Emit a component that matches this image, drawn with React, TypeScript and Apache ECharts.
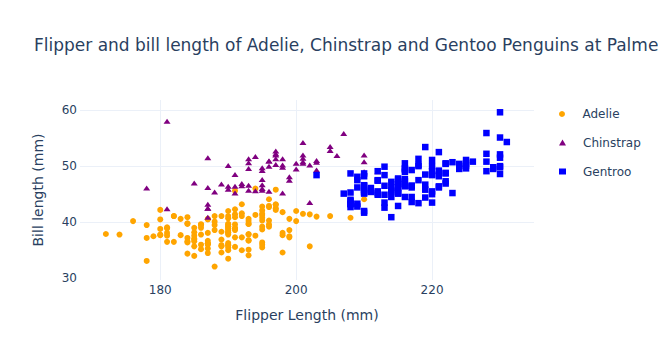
import React, { useEffect, useRef } from "react";
import * as echarts from "echarts";

// [flipper length (mm), bill length (mm)]
const adelie: number[][] = [
  [181,39.1],[186,39.5],[195,40.3],[193,36.7],[190,39.3],[181,38.9],[195,39.2],[193,34.1],[190,42.0],[186,37.8],
  [180,37.8],[182,41.1],[191,38.6],[198,34.6],[185,36.6],[195,38.7],[197,42.5],[184,34.4],[194,46.0],[174,37.8],
  [180,37.7],[189,35.9],[185,38.2],[180,38.8],[187,35.3],[183,40.6],[187,40.5],[172,37.9],[180,40.5],[178,39.5],
  [178,37.2],[188,39.5],[184,40.9],[195,36.4],[196,39.2],[190,38.8],[180,42.2],[181,37.6],[184,39.8],[182,36.5],
  [195,40.8],[186,36.0],[196,44.1],[185,37.0],[190,39.6],[182,41.1],[179,37.5],[190,36.0],[191,42.3],[186,39.6],
  [188,40.1],[190,35.0],[200,42.0],[187,34.5],[191,41.4],[186,39.0],[193,40.6],[181,36.5],[194,37.6],[185,35.7],
  [195,41.3],[185,37.6],[192,41.1],[184,36.4],[192,41.6],[195,35.5],[188,41.1],[190,35.9],[198,41.8],[190,33.5],
  [190,39.7],[196,39.6],[197,45.8],[190,35.5],[195,42.8],[191,40.9],[184,37.2],[187,36.2],[195,42.1],[189,34.6],
  [196,42.9],[187,36.7],[193,35.1],[191,37.3],[194,41.3],[190,36.3],[189,36.9],[189,38.3],[190,38.9],[202,35.7],
  [205,41.1],[185,34.0],[186,39.6],[187,36.2],[208,40.8],[190,38.1],[196,40.3],[178,33.1],[192,43.2],[192,35.0],
  [203,41.0],[183,37.7],[190,37.8],[193,37.9],[184,39.7],[199,38.6],[190,38.2],[181,38.1],[197,43.2],[198,38.1],
  [191,45.6],[193,39.7],[197,42.2],[191,39.6],[196,42.7],[188,38.6],[199,37.3],[189,35.7],[189,41.1],[187,36.2],
  [198,37.7],[176,40.2],[202,41.4],[186,35.2],[199,40.6],[191,38.8],[195,41.5],[191,39.0],[210,44.1],[190,38.5],
  [197,43.1],[193,36.8],[199,37.5],[187,38.1],[190,41.1],[191,35.6],[200,40.2],[185,37.0],[193,39.7],[193,40.2],
  [187,40.6],[188,32.1],[190,40.7],[192,37.3],[185,39.0],[190,39.2],[184,36.6],[195,36.0],[193,37.8],[187,36.0],
  [201,41.5]
];

const chinstrap: number[][] = [
  [192,46.5],[196,50.0],[193,51.3],[188,45.4],[197,52.7],[198,45.2],[178,46.1],[197,51.3],[195,46.0],[198,51.3],
  [193,46.6],[194,51.7],[185,47.0],[201,52.0],[190,45.9],[201,50.5],[197,50.3],[181,58.0],[190,46.4],[195,49.2],
  [181,42.4],[191,48.5],[187,43.2],[193,50.6],[195,46.7],[197,52.0],[200,50.5],[200,49.5],[191,46.4],[205,52.8],
  [187,40.9],[201,54.2],[187,42.5],[203,51.0],[195,49.7],[199,47.5],[195,47.6],[210,52.0],[192,46.9],[205,53.5],
  [210,49.0],[187,46.2],[196,50.9],[196,45.5],[196,50.9],[201,50.8],[190,50.1],[212,49.0],[187,51.5],[198,49.8],
  [199,48.1],[201,51.4],[193,45.7],[203,50.7],[187,42.5],[197,52.2],[191,45.2],[203,49.3],[202,50.2],[194,45.6],
  [206,51.9],[189,46.8],[195,45.7],[207,55.8],[202,43.5],[193,49.6],[210,50.8],[198,50.2]
];

const gentoo: number[][] = [
  [211,46.1],[230,50.0],[210,48.7],[218,50.0],[215,47.6],[210,46.5],[211,45.4],[219,46.7],[209,43.3],[215,46.8],
  [214,40.9],[216,49.0],[214,45.5],[213,48.4],[210,45.8],[217,49.3],[210,42.0],[221,49.2],[209,46.2],[222,48.7],
  [218,50.2],[215,45.1],[213,46.5],[215,46.3],[215,42.9],[215,46.1],[216,44.5],[215,47.8],[210,48.2],[220,50.0],
  [222,47.3],[209,42.8],[207,45.1],[230,59.6],[220,49.1],[220,48.4],[213,42.6],[219,44.4],[208,44.0],[208,48.7],
  [208,42.7],[225,49.6],[210,45.3],[216,49.6],[222,50.5],[217,43.6],[210,45.5],[225,50.5],[213,44.9],[215,45.2],
  [210,46.6],[220,48.5],[210,45.1],[225,50.1],[217,46.5],[220,45.0],[208,43.8],[220,45.5],[208,43.2],[224,50.4],
  [208,45.3],[221,46.2],[214,45.7],[231,54.3],[219,45.8],[230,49.8],[214,46.2],[229,49.5],[220,43.5],[223,50.7],
  [216,47.7],[221,46.4],[221,48.2],[217,46.5],[216,46.4],[230,48.6],[209,47.5],[220,51.1],[215,45.2],[223,45.2],
  [212,49.1],[221,52.5],[212,47.4],[224,50.0],[212,44.9],[228,50.8],[218,43.4],[218,51.3],[212,47.5],[230,52.1],
  [218,47.5],[228,52.2],[212,45.5],[224,49.5],[214,44.5],[226,50.8],[216,49.4],[222,46.9],[203,48.4],[225,51.1],
  [219,48.5],[228,55.9],[215,47.2],[228,49.1],[216,47.3],[215,46.8],[210,41.7],[219,53.4],[208,43.3],[209,48.1],
  [216,50.5],[229,49.8],[213,43.5],[230,51.5],[217,46.2],[230,55.1],[217,44.5],[222,48.8],[214,47.2],[215,46.8],
  [222,50.4],[212,45.2],[213,49.9]
];

const speciesNames = ["Adelie", "Chinstrap", "Gentroo"];
const speciesColors = ["#FFA500", "#800080", "#0000FF"];
const xTicks = [180, 200, 220];
const yTicks = [30, 40, 50, 60];
const yGridTicks = [40, 50, 60];

const FONT = '"DejaVu Sans", verdana, arial, sans-serif';
const TEXT = "#2a3f5f";
const GRID = "#EBF0F8";

export default function App() {
  const ref = useRef<HTMLDivElement>(null);
  useEffect(() => {
    if (!ref.current) return;
    const chart = echarts.init(ref.current, undefined, { renderer: "svg" });
    const legendTops = [108, 136.5, 165.5];
    const option: any = {
      animation: false,
      backgroundColor: "#ffffff",
      textStyle: { fontFamily: FONT, color: TEXT },
      title: {
        text: "Flipper and bill length of Adelie, Chinstrap and Gentoo Penguins at Palmer Station",
        left: 34,
        top: 36,
        padding: 0,
        textStyle: { fontFamily: FONT, fontSize: 17, fontWeight: "normal", color: TEXT },
      },
      legend: speciesNames.map((n, i) => ({
        data: [n],
        orient: "vertical",
        left: 559,
        top: legendTops[i],
        padding: 0,
        itemWidth: 7,
        itemHeight: 6,
        textStyle: { fontFamily: FONT, fontSize: 12, color: TEXT, padding: [0, 0, 0, 12] },
      })),
      grid: { left: 80, right: 124, top: 100, bottom: 80, containLabel: false, outerBoundsMode: "none" },
      xAxis: {
        type: "value",
        min: 168.19,
        max: 235.0,
        name: "Flipper Length (mm)",
        nameLocation: "middle",
        nameGap: 28,
        nameTextStyle: { fontFamily: FONT, fontSize: 14, color: TEXT },
        axisLine: { show: false },
        axisTick: { show: false, customValues: xTicks },
        axisLabel: { customValues: xTicks, fontFamily: FONT, fontSize: 12, color: TEXT, margin: 4 },
        splitLine: { show: true, lineStyle: { color: GRID, width: 1 } },
      },
      yAxis: {
        type: "value",
        min: 29.7,
        max: 61.79,
        name: "Bill length (mm)",
        nameLocation: "middle",
        nameGap: 35,
        nameTextStyle: { fontFamily: FONT, fontSize: 14, color: TEXT },
        axisLine: { show: false },
        axisTick: { show: false, customValues: yGridTicks },
        axisLabel: { customValues: yTicks, fontFamily: FONT, fontSize: 12, color: TEXT, margin: 3 },
        splitLine: { show: true, lineStyle: { color: GRID, width: 1 } },
      },
      series: [
        {
          name: speciesNames[0],
          type: "scatter",
          data: adelie,
          symbol: "circle",
          symbolSize: 6,
          itemStyle: { color: speciesColors[0], opacity: 1 },
        },
        {
          name: speciesNames[1],
          type: "scatter",
          data: chinstrap,
          symbol: "triangle",
          symbolSize: [7, 5],
          itemStyle: { color: speciesColors[1], opacity: 1 },
        },
        {
          name: speciesNames[2],
          type: "scatter",
          data: gentoo,
          symbol: "rect",
          symbolSize: 6.5,
          itemStyle: { color: speciesColors[2], opacity: 1 },
        },
      ],
    };
    chart.setOption(option);
    return () => chart.dispose();
  }, []);
  return (
    <div
      ref={ref}
      style={{ position: "fixed", left: 0, top: 0, width: 658, height: 360 }}
    />
  );
}
